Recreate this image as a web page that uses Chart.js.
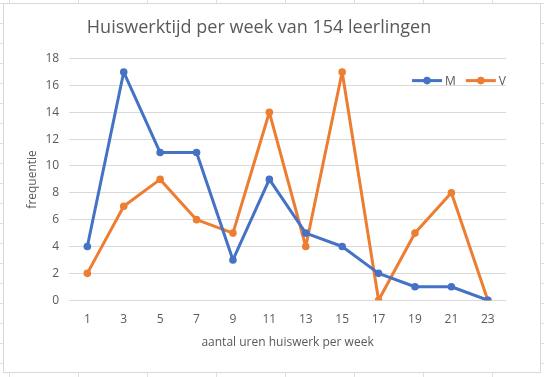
<!DOCTYPE html>
<html><head><meta charset="utf-8">
<script src="https://cdn.jsdelivr.net/npm/chart.js@4"></script>
<style>
html,body{margin:0;padding:0;width:544px;height:377px;overflow:hidden;background:#fff;
background-image:linear-gradient(to right,#e0e0e0 1px,transparent 1px),linear-gradient(to bottom,#e0e0e0 1px,transparent 1px);
background-size:69px 20px;background-position:9px 3px;}
#box{position:absolute;left:3px;top:3px;width:536px;height:368px;border:1px solid #d9d9d9;background:#fff;}
canvas{display:block}
</style></head><body>
<div id="box"><canvas id="c" width="536" height="368"></canvas></div>
<script>
const categories = ["1","3","5","7","9","11","13","15","17","19","21","23"];
const seriesM = [4,17,11,11,3,9,5,4,2,1,1,0];
const seriesV = [2,7,9,6,5,14,4,17,0,5,8,0];
const yTicks = [0,2,4,6,8,10,12,14,16,18];
const titleText = "Huiswerktijd per week van 154 leerlingen";
const xTitle = "aantal uren huiswerk per week";
const yTitle = "frequentie";
const font = "'Open Sans', 'Liberation Sans', sans-serif";
const grey = "#595959";

const insideLegend = {
  id:'insideLegend',
  afterDatasetsDraw(chart){
    const ctx = chart.ctx, area = chart.chartArea;
    ctx.save();
    ctx.font = "12px " + font;
    ctx.textBaseline = 'middle';
    const lineLen = 30, gap = 3, itemGap = 10;
    const items = chart.data.datasets.map(d=>({d, w: lineLen + gap + ctx.measureText(d.label).width}));
    const total = items.reduce((a,b)=>a+b.w,0) + itemGap*(items.length-1);
    let x = area.right - total;
    const y = area.top + 22;
    items.forEach(it=>{
      ctx.strokeStyle = it.d.borderColor; ctx.lineWidth = 3;
      ctx.beginPath(); ctx.moveTo(x,y); ctx.lineTo(x+lineLen,y); ctx.stroke();
      ctx.fillStyle = it.d.borderColor;
      ctx.beginPath(); ctx.arc(x+lineLen/2,y,3.8,0,Math.PI*2); ctx.fill();
      ctx.fillStyle = grey; ctx.textAlign='left';
      ctx.fillText(it.d.label, x+lineLen+gap, y+1);
      x += it.w + itemGap;
    });
    ctx.restore();
  }
};

new Chart(document.getElementById('c'), {
  type: 'line',
  data: {
    labels: categories,
    datasets: [
      {label:'M', data: seriesM, borderColor:'#4472C4', backgroundColor:'#4472C4', borderWidth:3, borderJoinStyle:'round', borderCapStyle:'round', pointRadius:3.8, pointBorderWidth:0, pointHoverRadius:3.8, tension:0},
      {label:'V', data: seriesV, borderColor:'#ED7D31', backgroundColor:'#ED7D31', borderWidth:3, borderJoinStyle:'round', borderCapStyle:'round', pointRadius:3.8, pointBorderWidth:0, pointHoverRadius:3.8, tension:0}
    ]
  },
  options: {
    responsive:false, animation:false,
    layout:{padding:{left:8,right:34,top:9,bottom:22}},
    plugins:{
      title:{display:true,text:titleText,color:grey,font:{family:font,size:18,weight:'normal'},padding:{top:4,bottom:20}},
      legend:{display:false},
      tooltip:{enabled:false}
    },
    scales:{
      x:{offset:true,grid:{display:false},border:{display:false},
        ticks:{color:grey,font:{family:font,size:12},padding:4,maxRotation:0},
        title:{display:true,text:xTitle,color:grey,font:{family:font,size:12},padding:{top:5,bottom:0}}},
      y:{min:0,max:18,afterBuildTicks:(s)=>{s.ticks=yTicks.map(v=>({value:v}));},
        grid:{color:'#d9d9d9',drawTicks:false},border:{display:false},
        ticks:{color:grey,font:{family:font,size:12},padding:10},
        title:{display:true,text:yTitle,color:grey,font:{family:font,size:12},padding:{top:13,bottom:-4}}}
    }
  },
  plugins:[insideLegend]
});
</script></body></html>
